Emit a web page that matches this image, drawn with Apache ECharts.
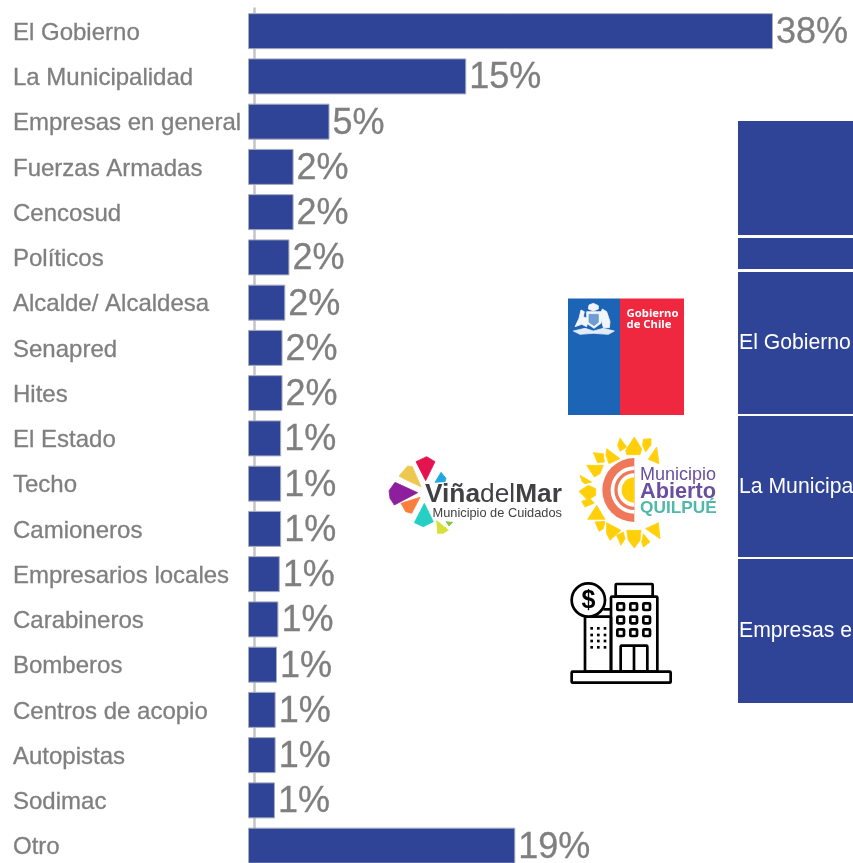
<!DOCTYPE html>
<html><head><meta charset="utf-8">
<style>html,body{margin:0;padding:0;background:#fff}#c{width:853px;height:863px}</style>
<script src="https://cdn.jsdelivr.net/npm/echarts@6/dist/echarts.min.js"></script>
</head><body><div id="c"></div>
<script>
const categories = ['El Gobierno','La Municipalidad','Empresas en general','Fuerzas Armadas','Cencosud','Políticos','Alcalde/ Alcaldesa','Senapred','Hites','El Estado','Techo','Camioneros','Empresarios locales','Carabineros','Bomberos','Centros de acopio','Autopistas','Sodimac','Otro'];
const barLengths = [38,15.8,5.9,3.3,3.3,3.0,2.7,2.5,2.5,2.4,2.4,2.4,2.3,2.2,2.1,2.0,2.0,1.95,19.35];
const valueLabels = ['38%','15%','5%','2%','2%','2%','2%','2%','2%','1%','1%','1%','1%','1%','1%','1%','1%','1%','19%'];
const tableRows = ['','','El Gobierno','La Municipalidad','Empresas en general'];

const BLUE='#2F4497', GREY='#7F7F7F', FONT='"Liberation Sans",Arial,sans-serif';
const g=[];
// right-hand table
[[121,235],[238,269],[272,414],[416,557],[559,703]].forEach((r,i)=>{
  g.push({type:'rect',shape:{x:738,y:r[0],width:115,height:r[1]-r[0]},style:{fill:BLUE}});
  if(tableRows[i]) g.push({type:'text',x:739,y:(r[0]+r[1])/2+0.5,style:{text:tableRows[i],fill:'#fff',font:'21.2px '+FONT,textVerticalAlign:'middle'}});
});
const mapper=(ox,oy)=>pts=>pts.map(p=>[ox+p[0]/3,oy+p[1]/3]);
const poly=(pts,fill,stroke)=>g.push({type:'polygon',shape:{points:pts},style:{fill,stroke:stroke||fill,lineWidth:stroke?1:0.8,lineJoin:'round'}});
const label=(x,y,text,font,fill)=>g.push({type:'text',x,y,style:{text,font,fill,textVerticalAlign:'middle'}});
// Gobierno de Chile
const C=mapper(565,295);
g.push({type:'rect',shape:{x:568,y:298.5,width:52,height:116.5},style:{fill:'#1C64B5'}});
g.push({type:'rect',shape:{x:620,y:298.5,width:64,height:116.5},style:{fill:'#EF273F'}});
label(626.5,313.3,'Gobierno','bold 11.3px "Noto Sans",sans-serif','#fff');
label(626.5,325,'de Chile','bold 11.3px "Noto Sans",sans-serif','#fff');
poly(C([[30,95],[42,70],[48,45],[58,50],[55,65],[70,72],[65,95],[50,88]]),'#F2F6FB');
poly(C([[105,60],[112,42],[125,50],[135,80],[133,98],[115,98]]),'#F2F6FB');
poly(C([[70,42],[72,30],[85,25],[100,32],[100,42],[85,48]]),'#F2F6FB');
poly(C([[65,50],[108,50],[108,85],[87,100],[65,85]]),'#F2F6FB');
poly(C([[72,58],[100,58],[100,82],[87,92],[72,82]]),'#6F9DD2');
poly(C([[25,108],[60,100],[85,108],[115,100],[148,108],[130,118],[85,115],[45,118]]),'#E3ECF6');
// Viña del Mar
const V=mapper(385,450);
poly(V([[93,35],[125,20],[150,35],[122,92]]),'#E5134F');
poly(V([[42,78],[68,48],[82,50],[108,110],[60,88]]),'#EDC84F');
poly(V([[150,97],[168,67],[183,85],[180,95]]),'#1FA9E0');
poly(V([[12,122],[30,97],[98,128],[28,165],[15,145]]),'#8E1F9C');
poly(V([[48,160],[105,142],[80,190],[62,185]]),'#FB7F3C');
poly(V([[88,218],[118,160],[145,215],[115,230]]),'#25CFC4');
poly(V([[155,212],[190,240],[175,250],[158,250]]),'#D6E03A');
poly(V([[183,215],[203,217],[192,228]]),'#8CC63F');
g.push({type:'text',x:425,y:495,style:{text:'{a|Viña}{b|del}{a|Mar}',textVerticalAlign:'middle',fill:'#414042',
  rich:{a:{font:'bold 26.3px '+FONT,fill:'#414042'},b:{font:'26.3px '+FONT,fill:'#414042'}}}});
label(432.5,513,'Municipio de Cuidados','12.8px '+FONT,'#414042');
// Municipio Abierto Quilpué
const Q=mapper(575,432), SUN='#FFD00A';
[
 [[178,15],[200,50],[195,68],[155,68],[152,55]],
 [[135,18],[155,45],[135,58],[128,40]],
 [[205,22],[228,20],[228,38],[212,60],[203,40]],
 [[95,50],[135,80],[102,95],[93,70]],
 [[245,45],[252,95],[220,82]],
 [[55,62],[85,65],[88,90],[68,92]],
 [[35,100],[85,100],[75,125],[58,135]],
 [[15,130],[50,150],[30,155],[22,150]],
 [[12,178],[40,160],[62,170],[62,190],[38,205]],
 [[20,208],[45,200],[58,213],[30,225]],
 [[38,262],[65,220],[90,262],[60,262]],
 [[60,270],[90,268],[85,290],[72,298]],
 [[95,272],[138,295],[105,325],[95,305]],
 [[125,310],[145,300],[150,320],[138,340]],
 [[155,295],[198,295],[195,325],[178,348],[160,325]],
 [[205,305],[225,330],[205,345],[200,330]],
 [[212,290],[250,272],[255,320]]
].forEach(p=>poly(Q(p),SUN));
const half=(r,fill)=>g.push({type:'sector',shape:{cx:634.3,cy:490,r,r0:0,startAngle:Math.PI/2,endAngle:Math.PI*1.5},style:{fill}});
half(32,'#F0785A');half(23.7,'#fff');half(20,'#F0785A');half(16.7,'#fff');half(12.7,SUN);
label(640,475,'Municipio','18px '+FONT,'#6A4FA0');
label(640,492,'Abierto','bold 21.7px '+FONT,'#6A4FA0');
label(640,508.7,'QUILPUÉ','bold 17.3px '+FONT,'#4FB8A8');
// Building icon
const X=v=>380+v/3, Y=v=>290+v/3, LW=2.7;
const box=(x0,y0,x1,y1)=>g.push({type:'rect',shape:{x:X(x0),y:Y(y0),width:(x1-x0)/3,height:(y1-y0)/3,r:1},style:{fill:'none',stroke:'#000',lineWidth:LW}});
box(707,882,818,920);box(693,920,832,1145);box(615,980,693,1145);box(575,1145,872,1178);box(722,1067,802,1145);
g.push({type:'line',shape:{x1:X(762),y1:Y(1067),x2:X(762),y2:Y(1145)},style:{stroke:'#000',lineWidth:LW}});
g.push({type:'line',shape:{x1:X(670),y1:Y(958),x2:X(693),y2:Y(958)},style:{stroke:'#000',lineWidth:LW}});
[950,990,1028].forEach(y=>[722,761,800].forEach(x=>box(x-10,y-10,x+10,y+10)));
[1015,1035,1053,1072].forEach(y=>[635,655,675].forEach(x=>g.push({type:'rect',shape:{x:X(x-4),y:Y(y-4),width:8/3,height:8/3},style:{fill:'#000'}})));
g.push({type:'circle',shape:{cx:X(625),cy:Y(930),r:50/3},style:{fill:'#fff',stroke:'#000',lineWidth:LW}});
g.push({type:'text',x:X(625),y:Y(932),style:{text:'$',font:'bold 25px '+FONT,fill:'#000',textAlign:'center',textVerticalAlign:'middle'}});

const chart=echarts.init(document.getElementById('c'),null,{renderer:'canvas'});
chart.setOption({
  animation:false,
  backgroundColor:'#fff',
  grid:{left:248,top:8.5,width:552.6,height:859.75,containLabel:false,outerBoundsMode:'none'},
  xAxis:{type:'value',min:0,max:40,show:false},
  yAxis:{type:'category',inverse:true,data:categories,offset:-6,
    axisLine:{show:true,lineStyle:{color:'#C4C4C4',width:2.5}},axisTick:{show:false},
    axisLabel:{align:'left',margin:241,formatter:v=>'{a|'+v+'}',
      rich:{a:{color:GREY,fontFamily:'"Liberation Sans",Arial,sans-serif',fontSize:24,padding:[4,0,0,0],textBorderColor:GREY,textBorderWidth:0.3}}}},
  series:[{type:'bar',data:barLengths,barWidth:36,
    itemStyle:{color:BLUE,borderColor:'#A6ABBD',borderWidth:1},
    label:{show:true,position:'right',distance:3,color:GREY,fontFamily:'"Liberation Sans",Arial,sans-serif',fontSize:36,
      offset:[0,2],textBorderColor:GREY,textBorderWidth:0.3,
      formatter:p=>valueLabels[p.dataIndex]}}],
  graphic:{elements:g}
});
</script></body></html>
